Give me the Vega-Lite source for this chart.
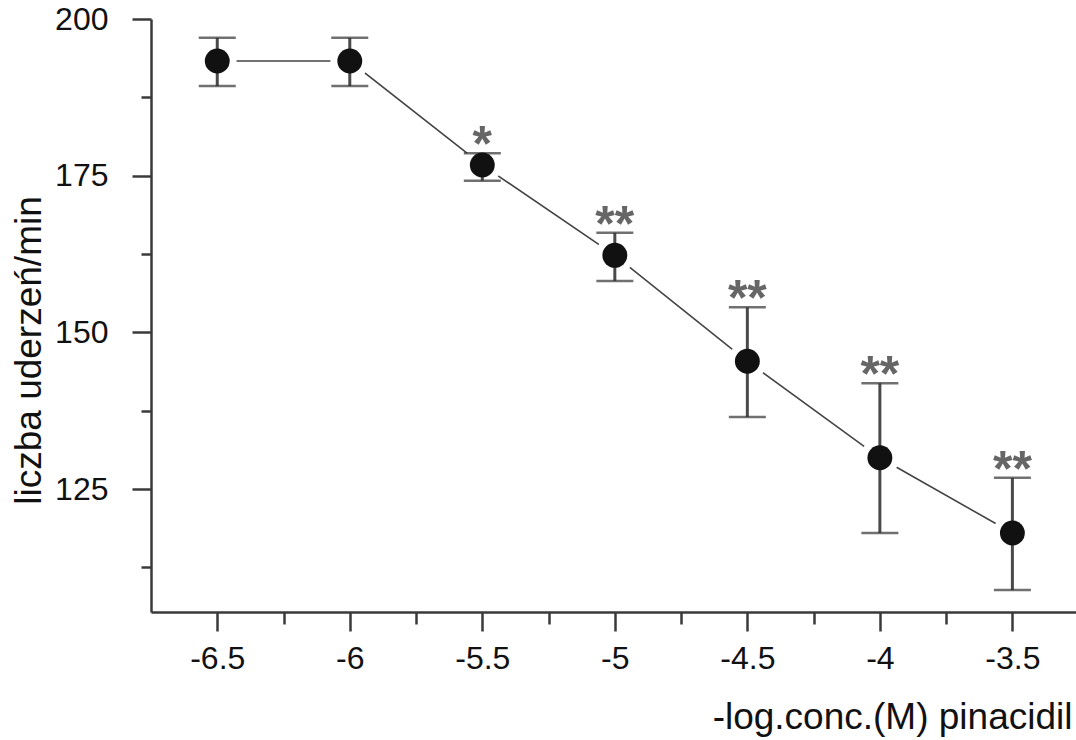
{
  "$schema": "https://vega.github.io/schema/vega-lite/v6.json",
  "autosize": "none",
  "width": 925,
  "height": 593,
  "padding": {"left": 151, "top": 19, "right": 0, "bottom": 128},
  "background": "white",
  "config": {
    "view": {"stroke": null},
    "font": "Liberation Sans",
    "axis": {
      "grid": false,
      "domainColor": "#3a3a3a",
      "domainWidth": 2.5,
      "tickColor": "#3a3a3a",
      "tickWidth": 2.5,
      "labelColor": "#111",
      "labelFont": "Liberation Sans",
      "labelFontSize": 32,
      "titleFont": "Liberation Sans",
      "titleColor": "#111",
      "titleFontWeight": "normal",
      "titleFontSize": 37
    }
  },
  "data": {
    "values": [
      {"conc": -6.5, "mean": 193.3, "lo": 189.3, "hi": 197.0, "sig": ""},
      {"conc": -6.0, "mean": 193.3, "lo": 189.3, "hi": 197.0, "sig": ""},
      {"conc": -5.5, "mean": 176.7, "lo": 174.2, "hi": 178.6, "sig": "*"},
      {"conc": -5.0, "mean": 162.3, "lo": 158.2, "hi": 165.9, "sig": "**"},
      {"conc": -4.5, "mean": 145.4, "lo": 136.5, "hi": 154.0, "sig": "**"},
      {"conc": -4.0, "mean": 130.0, "lo": 118.0, "hi": 141.9, "sig": "**"},
      {"conc": -3.5, "mean": 118.0, "lo": 108.9, "hi": 126.8, "sig": "**"}
    ]
  },
  "encoding": {
    "x": {
      "field": "conc",
      "type": "quantitative",
      "scale": {"domain": [-6.75, -3.26], "nice": false, "zero": false},
      "axis": {
        "title": "-log.conc.(M) pinacidil",
        "values": [-6.5, -6.25, -6, -5.75, -5.5, -5.25, -5, -4.75, -4.5, -4.25, -4, -3.75, -3.5],
        "labelExpr": "abs(datum.value*2 - round(datum.value*2)) < 0.01 ? toString(datum.value) : ''",
        "tickSize": {"condition": {"test": "abs(datum.value*2 - round(datum.value*2)) < 0.01", "value": 19}, "value": 12},
        "labelPadding": 12,
        "labelFlush": false,
        "labelOverlap": false,
        "titleAlign": "right",
        "titleAnchor": null,
        "titleBaseline": "alphabetic",
        "titleX": 921,
        "titleY": 116
      }
    },
    "y": {
      "field": "mean",
      "type": "quantitative",
      "scale": {"domain": [105.4, 200], "nice": false, "zero": false},
      "axis": {
        "title": "liczba uderzeń/min",
        "values": [112.5, 125, 137.5, 150, 162.5, 175, 187.5, 200],
        "labelExpr": "datum.value % 25 == 0 ? toString(datum.value) : ''",
        "tickSize": {"condition": {"test": "datum.value % 25 == 0", "value": 19}, "value": 10},
        "labelPadding": 24,
        "labelFlush": false,
        "labelOverlap": false,
        "titleAngle": -90,
        "titleAlign": "center",
        "titleBaseline": "alphabetic",
        "titleX": -111,
        "titleY": 331
      }
    }
  },
  "layer": [
    {
      "mark": {"type": "line", "color": "#444", "strokeWidth": 1.6}
    },
    {
      "mark": {"type": "point", "shape": "circle", "filled": true, "color": "white", "opacity": 1, "size": 1500}
    },
    {
      "mark": {"type": "rule", "color": "#4a4a4a", "strokeWidth": 3},
      "encoding": {"y": {"field": "lo", "type": "quantitative"}, "y2": {"field": "hi"}}
    },
    {
      "mark": {"type": "tick", "orient": "horizontal", "color": "#333", "thickness": 2.5, "size": 37},
      "encoding": {"y": {"field": "hi", "type": "quantitative"}}
    },
    {
      "mark": {"type": "tick", "orient": "horizontal", "color": "#333", "thickness": 2.5, "size": 37},
      "encoding": {"y": {"field": "lo", "type": "quantitative"}}
    },
    {
      "mark": {"type": "point", "shape": "circle", "filled": true, "color": "#111", "opacity": 1, "size": 620}
    },
    {
      "mark": {"type": "text", "color": "#666", "fontSize": 50, "fontWeight": "bold", "baseline": "alphabetic", "align": "center", "dy": 8, "letterSpacing": 3},
      "encoding": {"y": {"field": "hi", "type": "quantitative"}, "text": {"field": "sig"}}
    },
    {
      "data": {"values": [{"label": "JESIEŃ"}]},
      "mark": {"type": "text", "color": "#111", "fontSize": 32, "baseline": "alphabetic", "align": "center"},
      "encoding": {
        "x": {"datum": -5.075},
        "y": {"datum": 193.46},
        "text": {"field": "label"}
      }
    }
  ]
}
